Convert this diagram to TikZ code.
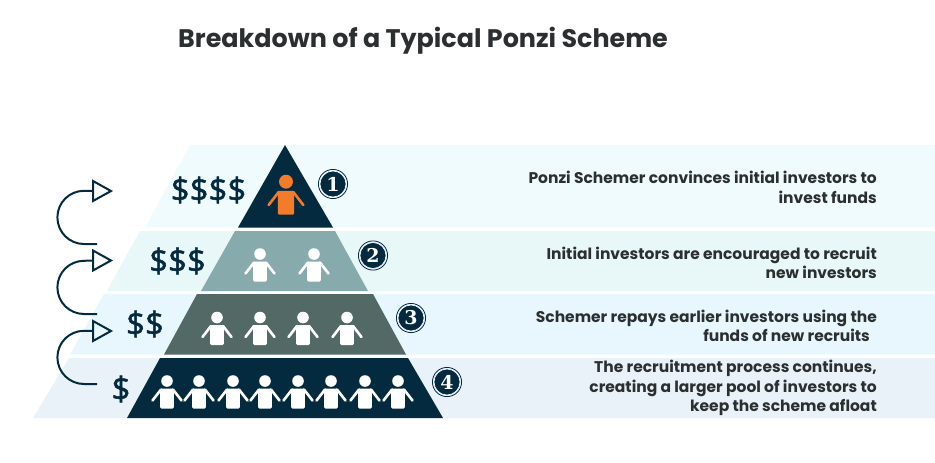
\documentclass[tikz,border=0pt]{standalone}
\usepackage{fontspec}
\setmainfont{Poppins}
\newfontfamily\dollarfont{Open Sans}[FakeBold=1.5]
\newfontfamily\badgefont{DejaVu Serif}
\definecolor{navy}{HTML}{042A40}
\definecolor{bandA}{HTML}{F0FBFD}
\definecolor{bandB}{HTML}{E8F8F9}
\definecolor{bandC}{HTML}{E8F7FD}
\definecolor{bandD}{HTML}{E8F2F8}
\definecolor{tierB}{HTML}{87ABAD}
\definecolor{tierC}{HTML}{526966}
\definecolor{ink}{HTML}{2B2F30}
\definecolor{schemer}{HTML}{F47B2A}
\tikzset{
  desc/.style={font=\bfseries\fontsize{15.5}{19.5}\selectfont,text=ink,align=right,anchor=east,inner sep=0pt},
  money/.style={font=\dollarfont\fontsize{33}{33}\selectfont,text=navy,inner sep=0pt},
  loop/.style={draw=navy,line width=2pt},
  badge/.style={circle,fill=navy,draw=white,line width=0.6pt,minimum size=26pt,inner sep=0pt,text=white,font=\badgefont\bfseries\fontsize{19}{19}\selectfont},
  badgering/.style={draw=navy,line width=0.8pt},
  pics/person/.style={code={
    \fill[#1] (0,-12.5) circle (5.8);
    \fill[#1,rounded corners=1.2] (-6.8,-4.8) -- (6.8,-4.8) -- (6.8,15) -- (-6.8,15) -- cycle;
    \draw[#1,line width=2.6pt,line cap=round,line join=round] (-6,-4) -- (-14.5,7);
    \draw[#1,line width=2.6pt,line cap=round,line join=round] (6,-4) -- (14.5,7);
  }}
}
\begin{document}
\begin{tikzpicture}[x=1pt,y=-1pt]
\useasboundingbox (0,0) rectangle (935,463);
\fill[white] (0,0) rectangle (935,463);
% bands
\fill[bandA] (190,145) -- (935,145) -- (935,227.5) -- (145,227.5) -- cycle;
\fill[bandB] (140,231) -- (935,231) -- (935,291) -- (107,291) -- cycle;
\fill[bandC] (104,294) -- (935,294) -- (935,354.5) -- (70,354.5) -- cycle;
\fill[bandD] (69,358) -- (935,358) -- (935,418) -- (33,418) -- cycle;
% pyramid
\fill[navy] (285,145) -- (333,227.5) -- (238,227.5) -- cycle;
\fill[tierB] (235,231) -- (335,231) -- (368,291) -- (201,291) -- cycle;
\fill[tierC] (197,294) -- (373,294) -- (406,354.5) -- (164,354.5) -- cycle;
\fill[navy] (160,358) -- (408,358) -- (443,418) -- (127,418) -- cycle;
% people
\pic[scale=1.2] at (286,196.7) {person=schemer};
\foreach \px in {260,314} \pic at (\px,266.5) {person=white};
\foreach \px in {217,260,303,347} \pic at (\px,330) {person=white};
\foreach \px in {167,199,233,265,298,331,365,398} \pic at (\px,393.5) {person=white};
% dollars
\node[money] (d1) at (208.5,190) {\$\$\$\$};
\node[money] (d2) at (177.5,261) {\$\$\$};
\node[money] (d3) at (145,324) {\$\$};
\node[money] (d4) at (121,389) {\$};
% badges
\foreach \bx/\by/\bn in {333/184/1,373/255.5/2,411/318/3,447/382/4}{
  \node[badge] (b\bn) at (\bx,\by) {\bn};
  \draw[badgering] (\bx,\by) circle (14.6);
}
% loops
\coordinate (la) at (97,244); \coordinate (lat) at (93,191);
\coordinate (lb) at (97,314); \coordinate (lbt) at (93,260.5);
\coordinate (lc) at (97,384); \coordinate (lct) at (93,331);
\foreach \s/\t in {la/lat,lb/lbt,lc/lct}{
  \draw[loop] (\s) -- ++(-13,0) arc[start angle=90,end angle=270,radius=26.6] -- (\t);
  \draw[loop,line join=miter] (\t) ++(0,-10) -- ++(18,10) -- ++(-18,10) -- cycle;
}
% text
\node[font=\fontsize{25.4}{30}\selectfont\bfseries,text=ink,anchor=west,inner sep=0pt] (title) at (178,41) {Breakdown of a Typical Ponzi Scheme};
\node[desc] (t1) at (877,187.5) {Ponzi Schemer convinces initial investors to\\invest funds};
\node[desc] (t2) at (877,263) {Initial investors are encouraged to recruit\\new investors};
\node[desc] (t3) at (877,326) {Schemer repays earlier investors using the\\funds of new recruits\hspace*{7pt}};
\node[desc] (t4) at (877,388) {The recruitment process continues,\\creating a larger pool of investors to\\keep the scheme afloat};
\end{tikzpicture}
\end{document}
